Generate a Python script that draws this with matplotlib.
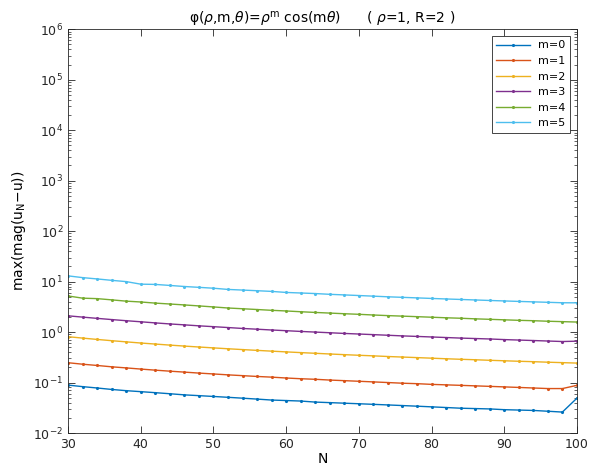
import matplotlib
matplotlib.use("Agg")

import matplotlib.pyplot as plt
from matplotlib.ticker import LogLocator, NullFormatter

N = list(range(30, 101, 2))

m0 = [0.089, 0.083, 0.078, 0.073, 0.069, 0.066, 0.063, 0.060, 0.057, 0.055,
      0.053, 0.051, 0.049, 0.047, 0.045, 0.044, 0.043, 0.041, 0.040, 0.039,
      0.038, 0.037, 0.036, 0.035, 0.034, 0.033, 0.032, 0.031, 0.0305, 0.030,
      0.029, 0.0285, 0.028, 0.027, 0.026, 0.049]
m1 = [0.247, 0.231, 0.218, 0.205, 0.195, 0.185, 0.176, 0.168, 0.161, 0.154,
      0.148, 0.142, 0.137, 0.132, 0.128, 0.123, 0.119, 0.116, 0.112, 0.109,
      0.106, 0.103, 0.100, 0.097, 0.095, 0.092, 0.090, 0.088, 0.086, 0.084,
      0.082, 0.080, 0.078, 0.076, 0.076, 0.088]
m2 = [0.81, 0.76, 0.715, 0.675, 0.64, 0.607, 0.579, 0.552, 0.528, 0.506,
      0.486, 0.467, 0.45, 0.434, 0.419, 0.405, 0.392, 0.38, 0.368, 0.357,
      0.347, 0.338, 0.328, 0.32, 0.312, 0.304, 0.296, 0.289, 0.283, 0.276,
      0.27, 0.264, 0.259, 0.253, 0.248, 0.243]
m3 = [2.10, 1.98, 1.87, 1.77, 1.68, 1.60, 1.52, 1.45, 1.39, 1.33,
      1.28, 1.23, 1.18, 1.14, 1.10, 1.065, 1.03, 1.0, 0.97, 0.94,
      0.915, 0.89, 0.865, 0.84, 0.82, 0.80, 0.78, 0.76, 0.745, 0.73,
      0.71, 0.695, 0.68, 0.665, 0.65, 0.66]
m4 = [5.2, 4.7, 4.6, 4.35, 4.1, 3.95, 3.75, 3.6, 3.45, 3.3,
      3.15, 3.0, 2.9, 2.8, 2.7, 2.62, 2.53, 2.45, 2.38, 2.31,
      2.25, 2.18, 2.12, 2.07, 2.02, 1.97, 1.92, 1.88, 1.83, 1.79,
      1.75, 1.71, 1.68, 1.64, 1.61, 1.58]
m5 = [13.0, 12.0, 11.3, 10.6, 10.0, 8.9, 8.8, 8.4, 8.0, 7.7,
      7.4, 7.0, 6.8, 6.6, 6.4, 6.1, 5.95, 5.8, 5.6, 5.45,
      5.3, 5.15, 5.0, 4.88, 4.76, 4.64, 4.53, 4.43, 4.33, 4.23,
      4.14, 4.05, 3.97, 3.89, 3.81, 3.8]

series = [m0, m1, m2, m3, m4, m5]
labels = ["m=0", "m=1", "m=2", "m=3", "m=4", "m=5"]
colors = ["#0072BD", "#D95319", "#EDB120", "#7E2F8E", "#77AC30", "#4DBEEE"]
yticks = [1e-2, 1e-1, 1e0, 1e1, 1e2, 1e3, 1e4, 1e5, 1e6]

fig = plt.figure(figsize=(5.89, 4.70), dpi=100)
ax = fig.add_axes([0.1155, 0.0787, 0.864, 0.859])

for ys, lab, c in zip(series, labels, colors):
    ax.plot(N, ys, color=c, lw=1.0, marker=".", ms=2.5, label=lab)

ax.set_yscale("log")
ax.set_xlim(30, 100)
ax.set_ylim(1e-2, 1e6)
ax.set_xticks(range(30, 101, 10))
ax.set_yticks(yticks)
ax.yaxis.set_minor_locator(LogLocator(base=10, subs=range(2, 10), numticks=100))
ax.yaxis.set_minor_formatter(NullFormatter())

ax.tick_params(which="both", direction="in", top=True, right=True,
               labelsize=9, colors="#262626")
ax.tick_params(which="major", length=5, width=0.6)
ax.tick_params(which="minor", length=2.5, width=0.5)
for s in ax.spines.values():
    s.set_linewidth(0.6)
    s.set_color("#262626")

ax.set_xlabel("N", fontsize=10, labelpad=1)
ax.set_ylabel(r"max(mag(u$_\mathregular{N}$$-$u))", fontsize=10)
ax.set_title(r"φ($\rho$,m,$\theta$)=$\rho^\mathregular{m}$ cos(m$\theta$)"
             r"      ( $\rho$=1, R=2 )", fontsize=10, pad=4)

leg = ax.legend(loc="upper right", fontsize=8, fancybox=False,
                edgecolor="#262626", framealpha=1, handlelength=3,
                borderaxespad=0.6)
leg.get_frame().set_linewidth(0.6)

fig.savefig("out.png", dpi=100)
